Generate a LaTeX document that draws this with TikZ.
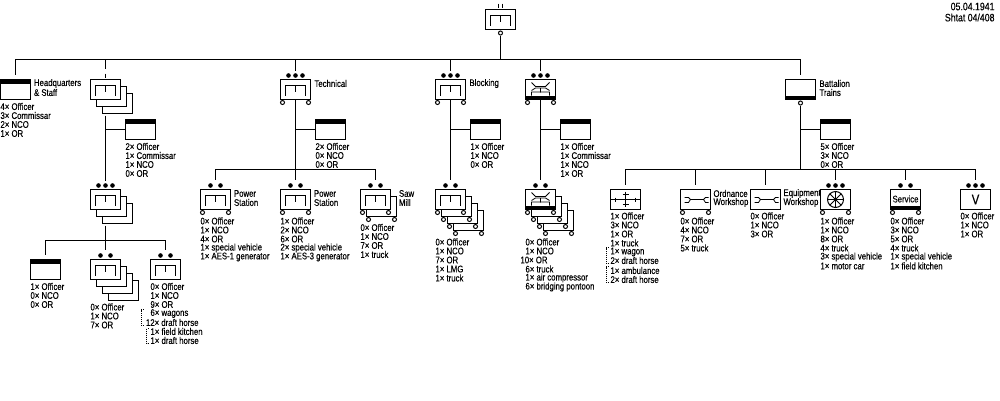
\documentclass[tikz,border=0pt]{standalone}
\usepackage{fontspec}
\setmainfont[FakeStretch=0.81,FakeBold=0.25]{Liberation Sans}
\begin{document}
\begin{tikzpicture}[x=1pt,y=-1pt,line width=1pt,
  box/.style={draw=black,fill=white,rectangle,inner sep=0pt,outer sep=0pt,minimum width=30pt,minimum height=20pt,anchor=north west,line width=1pt},
  lab/.style={inner sep=0pt,outer sep=0pt,anchor=west,align=left,font=\fontsize{9.6}{9}\selectfont},
  datelab/.style={inner sep=0pt,outer sep=0pt,anchor=east,font=\fontsize{10.8}{11}\selectfont},
  dot/.style={circle,fill=black,inner sep=0pt,minimum size=4.6pt},
  ring/.style={circle,draw=black,fill=white,inner sep=0pt,minimum size=4pt,line width=1pt},
  sym/.style={line width=1pt},
  dotline/.style={line width=.8pt,dash pattern=on 1pt off 1pt}]
\useasboundingbox (-.5,-.5) rectangle (999.5,399.5);
\fill[white] (-.5,-.5) rectangle (999.5,399.5);

\newcommand{\wheels}[3]{\node[ring] (#1wl) at (#2+2,#3+23) {};\node[ring] (#1wr) at (#2+28,#3+23) {};}
\newcommand{\plainbox}[3]{\node[box] (#1) at (#2,#3) {};}
\newcommand{\topband}[2]{\fill (#1,#2) rectangle (#1+30,#2+4);}
\newcommand{\botband}[2]{\fill (#1,#2+16) rectangle (#1+30,#2+20);}
\newcommand{\bracket}[2]{\draw[sym] (#1+5,#2+16) -- (#1+5,#2+6) -- (#1+25,#2+6) -- (#1+25,#2+16) (#1+15,#2+6) -- (#1+15,#2+12);}
\newcommand{\brg}[2]{\draw[sym,line width=.8pt] (#1+6,#2+3) -- (#1+10,#2+7) -- (#1+20,#2+7) -- (#1+24,#2+3) (#1+6,#2+11) -- (#1+10,#2+8.5) -- (#1+20,#2+8.5) -- (#1+24,#2+11) (#1+6,#2+16) -- (#1+6,#2+12.5) -- (#1+24,#2+12.5) -- (#1+24,#2+16) (#1+15,#2+9) -- (#1+15,#2+13);}
\newcommand{\wrench}[2]{\draw[sym,line width=.8pt] (#1+4,#2+8) -- (#1+8,#2+8) -- (#1+10,#2+10) -- (#1+8,#2+13) -- (#1+4,#2+13) (#1+10,#2+10) -- (#1+23,#2+10) -- (#1+25,#2+8) -- (#1+28,#2+8) (#1+23,#2+10) -- (#1+25,#2+13) -- (#1+28,#2+13);}
\newcommand{\dotstwo}[3]{\node[dot] (#1a) at (#2-5,#3-4) {};\node[dot] (#1b) at (#2+5,#3-4) {};}
\newcommand{\dotsthree}[3]{\node[dot] (#1a) at (#2-7,#3-4) {};\node[dot] (#1b) at (#2,#3-4) {};\node[dot] (#1c) at (#2+7,#3-4) {};}
\newcommand{\stl}[4]{\node[lab] (#1) at (#2,#3) {#4};}

% ---- head
\plainbox{top}{485}{9}\bracket{485}{9}
\node[ring] (topr) at (500,32.5) {};
\draw (498,3) -- (498,7) (502,3) -- (502,7);
\coordinate (bus) at (500,59);
\draw (topr) -- (bus);
\draw (15,74) |- (800,59) -- (800,74);
% ---- Headquarters
\plainbox{hq}{0}{79}\topband{0}{79}
\stl{hqlab1}{33.5}{83}{Headquarters}\stl{hqlab2}{33.5}{92}{\& Staff}
\stl{h1}{0}{106}{4× Officer}\stl{h2}{0}{115}{3× Commissar}\stl{h3}{0}{124}{2× NCO}\stl{h4}{0}{133}{1× OR}
% ---- Column 2: stacked
\draw (105,59) -- (105,68) (105,73) -- (105,77);
\node[box] (a3) at (102,93) {};
\node[box] (a2) at (96,86) {};
\node[box] (a1) at (90,79) {};\bracket{90}{79}
\coordinate (a1d) at (105,115);\coordinate (a1e) at (105,180);
\draw (a1d) -- (a1e);
\plainbox{as}{125}{119}\topband{125}{119}
\draw (105,129) -- (as.west);
\stl{as1}{125}{146}{2× Officer}\stl{as2}{125}{155}{1× Commissar}\stl{as3}{125}{164}{1× NCO}\stl{as4}{125}{173}{0× OR}
\dotsthree{ac}{105}{189}
\node[box] (ac3) at (102,203) {};
\node[box] (ac2) at (96,196) {};
\node[box] (ac1) at (90,189) {};\bracket{90}{189}
\draw (105,225) -- (105,249) (45,254) |- (165,240) -- (165,249);
\plainbox{b1}{30}{259}\topband{30}{259}
\stl{b11}{30}{286}{1× Officer}\stl{b12}{30}{295}{0× NCO}\stl{b13}{30}{304}{0× OR}
\dotstwo{b2}{105}{259}
\node[box] (b24) at (108,280) {};
\node[box] (b23) at (102,273) {};
\node[box] (b22) at (96,266) {};
\node[box] (b21) at (90,259) {};\bracket{90}{259}
\stl{b2t1}{90}{306.5}{0× Officer}\stl{b2t2}{90}{315.5}{1× NCO}\stl{b2t3}{90}{324.5}{7× OR}
\dotstwo{b3}{165}{259}
\plainbox{b31}{150}{259}\bracket{150}{259}
\stl{b3t1}{150}{286}{0× Officer}\stl{b3t2}{150}{295}{1× NCO}\stl{b3t3}{150}{304}{9× OR}
\stl{b3t4}{150}{313}{6× wagons}\stl{b3t5}{145.5}{322}{12× draft horse}
\stl{b3t6}{150}{331}{1× field kitchen}\stl{b3t7}{150}{340}{1× draft horse}
\draw[dotline] (143,309) -- (140.5,309) -- (140.5,325) -- (143,325);
\draw[dotline] (148,328) -- (146,328) -- (146,343) -- (148,343);
% ---- Technical
\dotsthree{t}{295}{79}
\plainbox{t0}{280}{79}\bracket{280}{79}\wheels{t0}{280}{79}
\stl{tl}{314}{83}{Technical}
\plainbox{ts}{315}{119}\topband{315}{119}
\draw (295,99) -- (295,179) (295,129) -- (ts.west);
\draw (295,59) -- (295,70);
\stl{ts1}{315}{146}{2× Officer}\stl{ts2}{315}{155}{0× NCO}\stl{ts3}{315}{164}{0× OR}
\draw (215,179) |- (375,169) -- (375,179);
\dotstwo{p1}{215}{189}
\plainbox{p1b}{200}{189}\bracket{200}{189}\wheels{p1b}{200}{189}
\stl{p1l1}{233.5}{193}{Power}\stl{p1l2}{233.5}{202}{Station}
\stl{p11}{200}{220.5}{0× Officer}\stl{p12}{200}{229.5}{1× NCO}\stl{p13}{200}{238.5}{4× OR}\stl{p14}{200}{247.5}{1× special vehicle}\stl{p15}{200}{256.5}{1× AES-1 generator}
\dotstwo{p2}{295}{189}
\plainbox{p2b}{280}{189}\bracket{280}{189}\wheels{p2b}{280}{189}
\stl{p2l1}{313.5}{193}{Power}\stl{p2l2}{313.5}{202}{Station}
\stl{p21}{280}{220.5}{1× Officer}\stl{p22}{280}{229.5}{2× NCO}\stl{p23}{280}{238.5}{6× OR}\stl{p24}{280}{247.5}{2× special vehicle}\stl{p25}{280}{256.5}{1× AES-3 generator}
\dotstwo{p3}{375}{189}
\plainbox{p3c}{366}{196}\wheels{p3c}{366}{196}
\plainbox{p3b}{360}{189}\bracket{360}{189}\wheels{p3b}{360}{189}
\stl{p3l1}{398.5}{193}{Saw}\stl{p3l2}{398.5}{202}{Mill}
\stl{p31}{360}{227}{0× Officer}\stl{p32}{360}{236}{1× NCO}\stl{p33}{360}{245}{7× OR}\stl{p34}{360}{254}{1× truck}
% ---- Blocking
\draw (450,59) -- (450,70);
\dotsthree{k}{450}{79}
\plainbox{k0}{435}{79}\bracket{435}{79}\wheels{k0}{435}{79}
\stl{kl}{469}{83}{Blocking}
\plainbox{ks}{470}{119}\topband{470}{119}
\draw (450,99) -- (450,179) (450,129) -- (ks.west);
\stl{ks1}{470}{146}{1× Officer}\stl{ks2}{470}{155}{1× NCO}\stl{ks3}{470}{164}{0× OR}
\dotstwo{kc}{450}{189}
\foreach \i/\o/\p in {4/18/21,3/12/14,2/6/7}{\node[ring] (kc\i l) at (435+\o+2,189+\p+23) {};\node[ring] (kc\i r) at (435+\o+28,189+\p+23) {};\node[box] (kc\i) at (435+\o,189+\p) {};}
\plainbox{kc1}{435}{189}\bracket{435}{189}\wheels{kc1}{435}{189}
\stl{kt1}{435}{241.5}{0× Officer}\stl{kt2}{435}{250.5}{1× NCO}\stl{kt3}{435}{259.5}{7× OR}\stl{kt4}{435}{268.5}{1× LMG}\stl{kt5}{435}{277.5}{1× truck}
% ---- Bridging
\draw (540,59) -- (540,70);
\dotsthree{e}{540}{79}
\plainbox{e0}{525}{79}\botband{525}{79}\brg{525}{79}\wheels{e0}{525}{79}
\plainbox{es}{560}{119}\topband{560}{119}
\draw (540,99) -- (540,179) (540,129) -- (es.west);
\stl{es1}{560}{146}{1× Officer}\stl{es2}{560}{155}{1× Commissar}\stl{es3}{560}{164}{1× NCO}\stl{es4}{560}{173}{1× OR}
\dotstwo{ec}{540}{189}
\foreach \i/\o/\p in {4/18/21,3/12/14,2/6/7}{\node[ring] (ec\i l) at (525+\o+2,189+\p+23) {};\node[ring] (ec\i r) at (525+\o+28,189+\p+23) {};\node[box] (ec\i) at (525+\o,189+\p) {};}
\plainbox{ec1}{525}{189}\botband{525}{189}\brg{525}{189}\wheels{ec1}{525}{189}
\stl{et1}{525}{241.5}{0× Officer}\stl{et2}{525}{250.5}{1× NCO}\stl{et3}{520}{259.5}{10× OR}\stl{et4}{525}{268.5}{6× truck}\stl{et5}{525}{277.5}{1× air compressor}\stl{et6}{525}{286.5}{6× bridging pontoon}
% ---- Trains
\plainbox{r0}{785}{79}\botband{785}{79}
\node[ring] (r0r) at (800,102.5) {};
\stl{rl1}{819}{83}{Battalion}\stl{rl2}{819}{92}{Trains}
\plainbox{rs}{820}{119}\topband{820}{119}
\draw (r0r) -- (800,169) (800,129) -- (rs.west);
\stl{rs1}{820}{146}{5× Officer}\stl{rs2}{820}{155}{3× NCO}\stl{rs3}{820}{164}{0× OR}
\draw (625,184) |- (975,169) -- (975,179);
\draw (695,169) -- (695,184) (765,169) -- (765,184) (835,169) -- (835,179) (905,169) -- (905,179);
% medical
\plainbox{m1}{610}{189}
\draw[sym] (610,199) -- (640,199) (625,191) -- (625,206) (615,197) -- (615,201) (635,197) -- (635,201) (622,194) -- (628,194) (622,204) -- (628,204);
\stl{m11}{610}{215.5}{1× Officer}\stl{m12}{610}{224.5}{3× NCO}\stl{m13}{610}{233.5}{1× OR}\stl{m14}{610}{242.5}{1× truck}
\stl{m15}{610}{251.5}{1× wagon}\stl{m16}{610}{260}{2× draft horse}\stl{m17}{610}{270}{1× ambulance}\stl{m18}{610}{279}{2× draft horse}
\draw[dotline] (608,247) -- (605.5,247) -- (605.5,263) -- (608,263);
\draw[dotline] (608,266) -- (605.5,266) -- (605.5,282) -- (608,282);
% workshops
\plainbox{w1}{680}{189}\wrench{680}{189}\wheels{w1}{680}{189}
\stl{w1l1}{713}{193}{Ordnance}\stl{w1l2}{713}{202}{Workshop}
\stl{w11}{680}{220.5}{0× Officer}\stl{w12}{680}{229.5}{4× NCO}\stl{w13}{680}{238.5}{7× OR}\stl{w14}{680}{247.5}{5× truck}
\plainbox{w2}{750}{189}\wrench{750}{189}
\stl{w2l1}{783}{193}{Equipment}\stl{w2l2}{783}{202}{Workshop}
\stl{w21}{750}{215.5}{0× Officer}\stl{w22}{750}{224.5}{1× NCO}\stl{w23}{750}{233.5}{3× OR}
% wheel
\dotsthree{y}{835}{189}
\plainbox{y0}{820}{189}\wheels{y0}{820}{189}
\draw[sym] (835,199) circle (8);
\foreach \a in {0,45,...,315}{\draw[sym,line width=.8pt] (835,199) -- ++(\a:8);}
\fill (835,199) circle (1.5);
\stl{y1}{820}{220.5}{1× Officer}\stl{y2}{820}{229.5}{1× NCO}\stl{y3}{820}{238.5}{8× OR}\stl{y4}{820}{247.5}{4× truck}\stl{y5}{820}{256.5}{3× special vehicle}\stl{y6}{820}{265.5}{1× motor car}
% service
\dotstwo{s}{905}{189}
\plainbox{s0}{890}{189}\botband{890}{189}\wheels{s0}{890}{189}
\node[lab,anchor=center] (sl) at (905,198.5) {Service};
\stl{s1}{890}{220.5}{0× Officer}\stl{s2}{890}{229.5}{3× NCO}\stl{s3}{890}{238.5}{5× OR}\stl{s4}{890}{247.5}{4× truck}\stl{s5}{890}{256.5}{1× special vehicle}\stl{s6}{890}{265.5}{1× field kitchen}
% V
\dotsthree{v}{975}{189}
\plainbox{v0}{960}{189}
\node[lab,anchor=center,font=\fontsize{14}{14}\selectfont] (vl) at (975,199) {V};
\stl{v1}{960}{215.5}{0× Officer}\stl{v2}{960}{224.5}{1× NCO}\stl{v3}{960}{233.5}{1× OR}
% date
\node[datelab] (d1) at (994,6) {05.04.1941};
\node[datelab] (d2) at (994,17) {Shtat 04/408};
\end{tikzpicture}
\end{document}
